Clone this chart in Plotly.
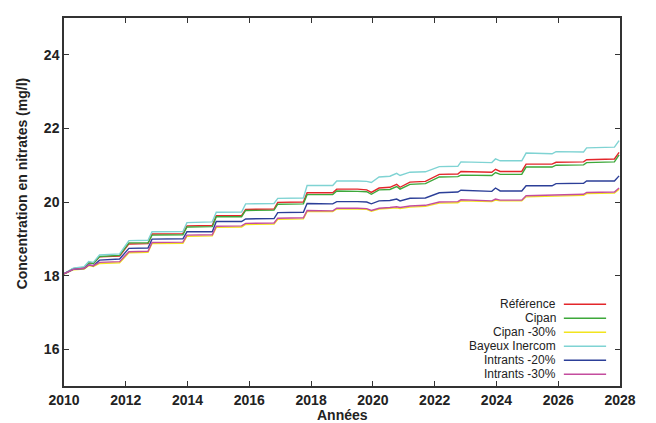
import plotly.graph_objects as go

years = [2010.00, 2010.30, 2010.65, 2010.80, 2010.95, 2011.15, 2011.80, 2012.10, 2012.72, 2012.85,
         2013.85, 2013.98, 2014.80, 2014.93, 2015.75, 2015.88, 2016.80, 2016.92, 2017.75, 2017.87,
         2018.70, 2018.83, 2019.50, 2019.80, 2019.95, 2020.20, 2020.55, 2020.77, 2020.88, 2021.20,
         2021.70, 2022.15, 2022.75, 2022.85, 2023.85, 2023.97, 2024.12, 2024.82, 2024.96, 2025.80,
         2025.93, 2026.82, 2026.92, 2027.82, 2027.97]

reference = [18.05, 18.19, 18.22, 18.35, 18.33, 18.51, 18.53, 18.86, 18.87, 19.13,
             19.14, 19.35, 19.36, 19.63, 19.63, 19.80, 19.81, 19.99, 20.00, 20.25,
             20.25, 20.35, 20.35, 20.33, 20.26, 20.38, 20.40, 20.48, 20.40, 20.54,
             20.56, 20.75, 20.76, 20.83, 20.81, 20.89, 20.83, 20.83, 21.03, 21.03,
             21.08, 21.09, 21.15, 21.17, 21.35]
cipan = [18.05, 18.19, 18.22, 18.35, 18.33, 18.52, 18.55, 18.89, 18.89, 19.10,
         19.11, 19.32, 19.33, 19.60, 19.60, 19.77, 19.78, 19.94, 19.95, 20.20,
         20.20, 20.30, 20.29, 20.28, 20.21, 20.33, 20.34, 20.42, 20.35, 20.48,
         20.50, 20.68, 20.69, 20.73, 20.72, 20.80, 20.75, 20.75, 20.95, 20.95,
         21.00, 21.01, 21.07, 21.09, 21.28]
cipan30 = [18.04, 18.16, 18.18, 18.27, 18.25, 18.33, 18.35, 18.62, 18.63, 18.87,
           18.88, 19.07, 19.08, 19.31, 19.32, 19.39, 19.40, 19.53, 19.54, 19.74,
           19.74, 19.81, 19.81, 19.80, 19.75, 19.81, 19.83, 19.84, 19.82, 19.86,
           19.88, 19.97, 19.98, 20.03, 20.01, 20.05, 20.03, 20.03, 20.14, 20.15,
           20.17, 20.18, 20.23, 20.24, 20.35]
bayeux = [18.05, 18.20, 18.24, 18.38, 18.36, 18.56, 18.59, 18.95, 18.96, 19.19,
          19.20, 19.44, 19.46, 19.72, 19.73, 19.95, 19.96, 20.10, 20.11, 20.45,
          20.45, 20.57, 20.57, 20.56, 20.53, 20.68, 20.70, 20.78, 20.72, 20.81,
          20.82, 20.96, 20.97, 21.09, 21.07, 21.17, 21.12, 21.12, 21.33, 21.31,
          21.37, 21.36, 21.47, 21.49, 21.67]
intrants20 = [18.05, 18.17, 18.19, 18.29, 18.27, 18.42, 18.45, 18.74, 18.75, 18.99,
              19.00, 19.19, 19.19, 19.47, 19.47, 19.54, 19.55, 19.71, 19.72, 19.96,
              19.95, 20.01, 20.01, 20.00, 19.95, 20.03, 20.04, 20.08, 20.03, 20.10,
              20.11, 20.25, 20.27, 20.32, 20.29, 20.38, 20.30, 20.30, 20.44, 20.44,
              20.50, 20.51, 20.57, 20.57, 20.71]
intrants30 = [18.05, 18.17, 18.20, 18.29, 18.27, 18.36, 18.38, 18.65, 18.66, 18.90,
              18.91, 19.10, 19.11, 19.34, 19.35, 19.42, 19.43, 19.56, 19.57, 19.77,
              19.76, 19.83, 19.83, 19.82, 19.77, 19.83, 19.85, 19.87, 19.85, 19.89,
              19.91, 20.00, 20.01, 20.06, 20.03, 20.08, 20.05, 20.05, 20.17, 20.18,
              20.20, 20.21, 20.26, 20.27, 20.38]

names = ["Référence", "Cipan", "Cipan -30%", "Bayeux Inercom", "Intrants -20%", "Intrants -30%"]
colors = ["#e3262b", "#3da83a", "#f2e41e", "#7fd3d3", "#2c3f98", "#c44c9e"]
series = [reference, cipan, cipan30, bayeux, intrants20, intrants30]

x_ticks = [2010, 2012, 2014, 2016, 2018, 2020, 2022, 2024, 2026, 2028]
y_ticks = [16, 18, 20, 22, 24]

FONT = "Liberation Sans, Arial"

fig = go.Figure()
for name, col, ys in zip(names, colors, series):
    fig.add_trace(go.Scatter(x=years, y=ys, mode="lines", name=name,
                             line=dict(color=col, width=1.4), showlegend=False))

# manual legend: text on the left, line sample on the right
leg_y = [0.222, 0.184, 0.146, 0.108, 0.070, 0.032]
for name, col, ly in zip(names, colors, leg_y):
    fig.add_annotation(xref="paper", yref="paper", x=0.887, y=ly, text=name,
                       showarrow=False, xanchor="right", yanchor="middle", borderpad=0,
                       font=dict(family=FONT, size=12, color="#222"))
    fig.add_shape(type="line", xref="paper", yref="paper", x0=0.899, x1=0.975,
                  y0=ly, y1=ly, line=dict(color=col, width=1.5))

# axis titles as annotations (fixed placement like the reference)
fig.add_annotation(xref="paper", yref="paper", x=-0.076, y=0.55,
                   text="Concentration en nitrates (mg/l)", textangle=-90,
                   showarrow=False, xanchor="center", yanchor="middle",
                   font=dict(family=FONT, size=14, color="#222", weight="bold"))
fig.add_annotation(xref="paper", yref="paper", x=0.5, y=-0.08,
                   text="Années", showarrow=False, xanchor="center", yanchor="middle",
                   font=dict(family=FONT, size=14, color="#222", weight="bold"))

axis_common = dict(showline=True, linecolor="#333", linewidth=1.5, mirror="ticks",
                   ticks="inside", ticklen=5, tickwidth=1, tickcolor="#333",
                   showgrid=False, zeroline=False, automargin=False,
                   tickfont=dict(family=FONT, size=14, color="#222", weight="bold"))

fig.update_xaxes(range=[2010, 2028], tickvals=x_ticks, ticktext=[str(v) for v in x_ticks],
                 **axis_common)
fig.update_yaxes(range=[15, 25], tickvals=y_ticks, ticktext=[str(v) for v in y_ticks],
                 **axis_common)

# the page body adds an 8px offset, so the figure is sized to fit inside the window
fig.update_layout(width=648, height=415, margin=dict(l=56, r=36, t=10, b=37),
                  plot_bgcolor="white", paper_bgcolor="white")

fig.write_html("out.html")
